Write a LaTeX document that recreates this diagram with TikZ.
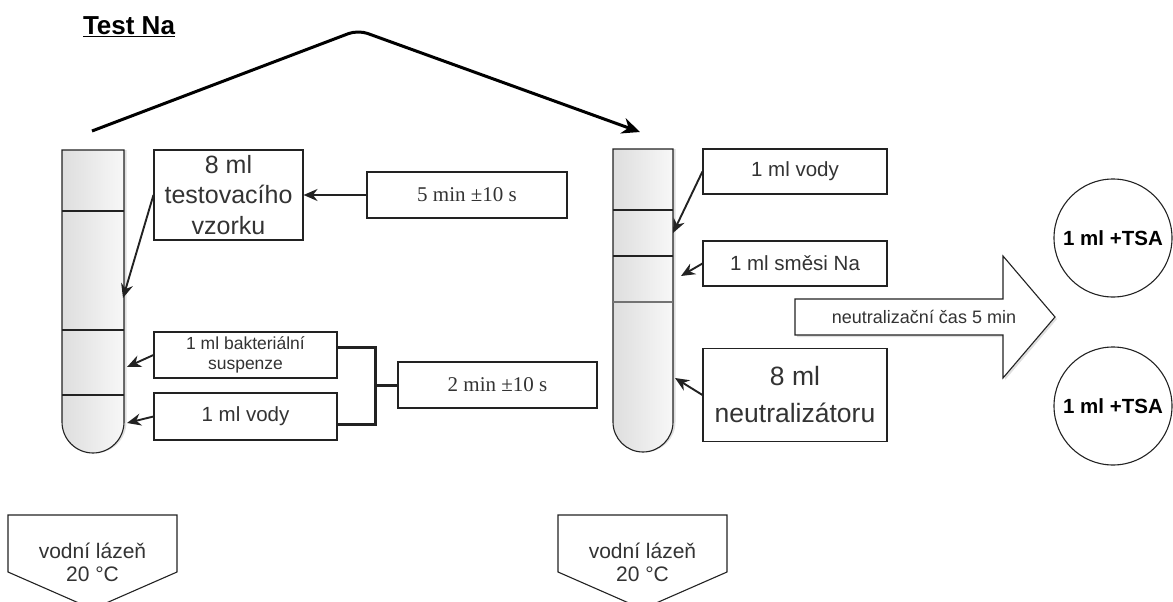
\documentclass[tikz,border=0pt]{standalone}
\usepackage{fontspec}
\setmainfont{Liberation Sans}
\newfontfamily\timesfont{Liberation Serif}
\usetikzlibrary{arrows.meta,positioning,shadows}
\definecolor{txtgray}{HTML}{333333}
\definecolor{linegray}{HTML}{222222}

\begin{document}
\begin{tikzpicture}[
  x=1pt, y=-1pt,
  box/.style={draw=linegray, line width=1.1pt, fill=white, text=txtgray, align=center,
              inner sep=1pt, minimum width=#1},
  tube/.style={draw=linegray, line width=1.1pt, left color=black!13, right color=black!3,
               drop shadow={shadow xshift=2.5pt, shadow yshift=0pt, opacity=0.25}},
  ar/.style={-{Stealth[length=14pt, width=12pt]}, line width=1.9pt, linegray},
  brk/.style={line width=3pt, linegray},
  plate/.style={draw=linegray, circle, line width=1.1pt, minimum size=118pt, inner sep=0pt,
                font=\fontsize{20.5}{24}\selectfont\bfseries, text=black},
  bath/.style={draw=linegray, line width=1.1pt, fill=white},
]
\useasboundingbox (0,0) rectangle (1173,602);

% Nadpis
\node[font=\fontsize{26}{30}\selectfont\bfseries, text=black] (title) at (129,27) {\underline{Test Na}};

% Zkumavka Na (vlevo)
\path[tube] (62,150) -- (124,150) [rounded corners=31pt] -- (124,453) -- (62,453) [sharp corners] -- cycle;
\foreach \yy in {211,330,395}
  \draw[line width=1.1pt, linegray] (62,\yy) -- (124,\yy);
\coordinate (la) at (123,298);
\coordinate (lb) at (127,367);
\coordinate (lc) at (127,423);

\node[box=149pt, minimum height=90pt, font=\fontsize{25}{30.5}\selectfont] (smp) at (228.5,195)
  {8 ml\\testovacího\\vzorku};
\node[box=200pt, minimum height=46pt, font=\timesfont\fontsize{21}{24}\selectfont] (t5) at (467,195)
  {5 min ±10 s};
\node[box=183pt, minimum height=46pt, font=\fontsize{17.5}{20}\selectfont] (bak) at (245.5,355)
  {1 ml bakteriální\\suspenze};
\node[box=183pt, minimum height=47pt, font=\fontsize{20.5}{24}\selectfont] (vodL) at (245.5,416.5)
  {1 ml vody};
\node[box=199pt, minimum height=46pt, font=\timesfont\fontsize{21}{24}\selectfont] (t2) at (497.5,385)
  {2 min ±10 s};

\draw[ar] (smp.west) -- (la);
\draw[ar] (t5.west) -- (smp.east);
\draw[ar] (bak.west) -- (lb);
\draw[ar] (vodL.west) -- (lc);
\coordinate (br) at (375,385);
\draw[brk] ([yshift=8pt]bak.east) -| (br) |- ([yshift=-8pt]vodL.east);
\draw[brk] (br) -- (t2.west);

% Presun do druhe zkumavky
\coordinate (topS) at (92,131);
\coordinate (topM) at (358,30);
\coordinate (topE) at (640,132);
\draw[-{Stealth[length=18pt, width=16pt]}, line width=3pt, rounded corners=10pt]
  (topS) -- (topM) -- (topE);

% Zkumavka s neutralizatorem (vpravo)
\path[tube] (613,149) -- (673,149) [rounded corners=30pt] -- (673,452) -- (613,452) [sharp corners] -- cycle;
\foreach \yy in {210,256}
  \draw[line width=1.1pt, linegray] (613,\yy) -- (673,\yy);
\draw[line width=1.3pt, black!55] (613,302) -- (673,302);
\coordinate (ra) at (673,233);
\coordinate (rb) at (681,276);
\coordinate (rc) at (675,378);

\node[box=184pt, minimum height=45pt, font=\fontsize{20.5}{24}\selectfont] (vodR) at (795,171.5)
  {1 ml vody};
\node[box=184pt, minimum height=45pt, font=\fontsize{20.5}{24}\selectfont] (smes) at (795,263.5)
  {1 ml směsi Na};
\node[box=184pt, minimum height=93pt, font=\fontsize{26.5}{37}\selectfont] (neu) at (795,395)
  {8 ml\\neutralizátoru};

\draw[ar] (vodR.west) -- (ra);
\draw[ar] (smes.west) -- (rb);
\draw[ar] (neu.west) -- (rc);

% Neutralizace
\draw[line width=1.1pt, linegray, fill=white, drop shadow={shadow xshift=2pt, shadow yshift=-2pt, opacity=0.25}]
  (795,299) -- (1003,299) -- (1003,256) -- (1055,317) -- (1003,378) -- (1003,335) -- (795,335) -- cycle;
\node[font=\fontsize{18}{20}\selectfont, text=txtgray] (nt) at (924,317) {neutralizační čas 5 min};

% Plotny
\node[plate] (p1) at (1113,238) {1 ml +TSA};
\node[plate] (p2) at (1113,406) {1 ml +TSA};

% Vodni lazne
\draw[bath] (8,515) -- (177,515) -- (177,572) -- (92.5,609) -- (8,572) -- cycle;
\node[align=center, text=txtgray, font=\fontsize{21}{23}\selectfont] (bathL) at (92.5,562) {vodní lázeň\\20 °C};
\draw[bath] (558,515) -- (727,515) -- (727,572) -- (642.5,609) -- (558,572) -- cycle;
\node[align=center, text=txtgray, font=\fontsize{21}{23}\selectfont] (bathR) at (642.5,562) {vodní lázeň\\20 °C};
\end{tikzpicture}
\end{document}
